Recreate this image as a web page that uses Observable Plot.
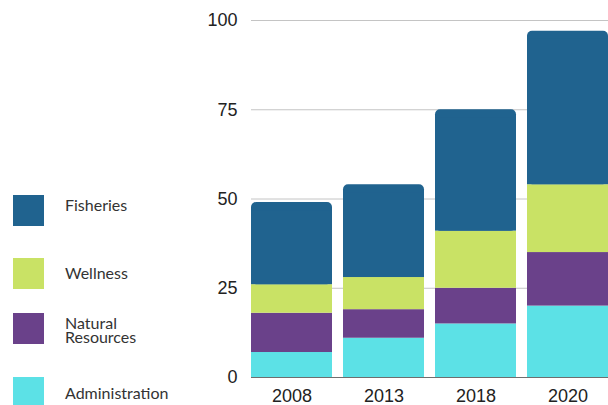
<!DOCTYPE html>
<html>
<head>
<meta charset="utf-8">
<script src="https://cdn.jsdelivr.net/npm/d3@7"></script>
<script src="https://cdn.jsdelivr.net/npm/@observablehq/plot@0.6"></script>
<style>
  html, body { margin: 0; padding: 0; background: #fff; }
  #wrap { position: relative; width: 608px; height: 405px; overflow: hidden; }
  #legend { position: absolute; left: 0; top: 0; width: 240px; height: 405px; font-family: "Lato", "Noto Sans", sans-serif; font-size: 16px; color: #333; }
  .sw { position: absolute; left: 13px; width: 31px; height: 31px; }
  .lb { position: absolute; left: 65px; width: 130px; line-height: 14px; transform: translateY(-50%); white-space: nowrap; }
</style>
</head>
<body>
<div id="wrap"><div id="legend"></div></div>
<script>
const years = ["2008", "2013", "2018", "2020"];
const categories = ["Administration", "Natural Resources", "Wellness", "Fisheries"];
const administration = [7, 11, 15, 20];
const naturalResources = [11, 8, 10, 15];
const wellness = [8, 9, 16, 19];
const fisheries = [23, 26, 34, 43];
const colors = ["#5ce1e6", "#6a418a", "#c9e265", "#20638f"];
const yTicks = [0, 25, 50, 75, 100];
const legendOrder = ["Fisheries", "Wellness", "Natural Resources", "Administration"];

const series = [administration, naturalResources, wellness, fisheries];
const rows = [];
years.forEach((year, i) => {
  let acc = 0;
  categories.forEach((cat, k) => {
    const v = series[k][i];
    rows.push({year, category: cat, y1: acc, y2: acc + v});
    acc += v;
  });
});
const lowerRows = rows.filter(d => d.category !== "Fisheries");
const topRows = rows.filter(d => d.category === "Fisheries");

const chart = Plot.plot({
  width: 608,
  height: 405,
  marginLeft: 251,
  marginRight: 0,
  marginTop: 20,
  marginBottom: 28,
  style: {fontFamily: "'Liberation Sans', Arial, sans-serif", fontSize: "18px", color: "#222", background: "#fff"},
  x: {domain: years, paddingInner: 0.12, paddingOuter: 0, tickSize: 0, tickPadding: 12, label: null},
  y: {domain: [0, 100], ticks: yTicks, tickSize: 0, tickPadding: 14, label: null},
  color: {domain: categories, range: colors},
  marks: [
    Plot.ruleY(yTicks, {stroke: "#c4c4c4", strokeWidth: 1}),
    Plot.ruleY([0], {stroke: "#6e6e6e", strokeWidth: 1}),
    Plot.rectY(lowerRows, {x: "year", y1: "y1", y2: "y2", fill: "category"}),
    Plot.rectY(topRows, {x: "year", y1: "y1", y2: "y2", fill: "category", rx: 5}),
    Plot.rectY(topRows, {x: "year", y1: "y1", y2: "y2", fill: "category", insetTop: 8})
  ]
});
document.getElementById("wrap").appendChild(chart);

const legendTops = [195, 258, 313, 377];
const labelCenters = [205, 273, 330, 393];
const legend = document.getElementById("legend");
legendOrder.forEach((cat, i) => {
  const sw = document.createElement("div");
  sw.className = "sw";
  sw.style.top = legendTops[i] + "px";
  sw.style.background = colors[categories.indexOf(cat)];
  legend.appendChild(sw);
  const lb = document.createElement("div");
  lb.className = "lb";
  lb.style.top = labelCenters[i] + "px";
  if (cat === "Natural Resources") {
    lb.innerHTML = "Natural<br>Resources";
  } else {
    lb.textContent = cat;
  }
  legend.appendChild(lb);
});
</script>
</body>
</html>
